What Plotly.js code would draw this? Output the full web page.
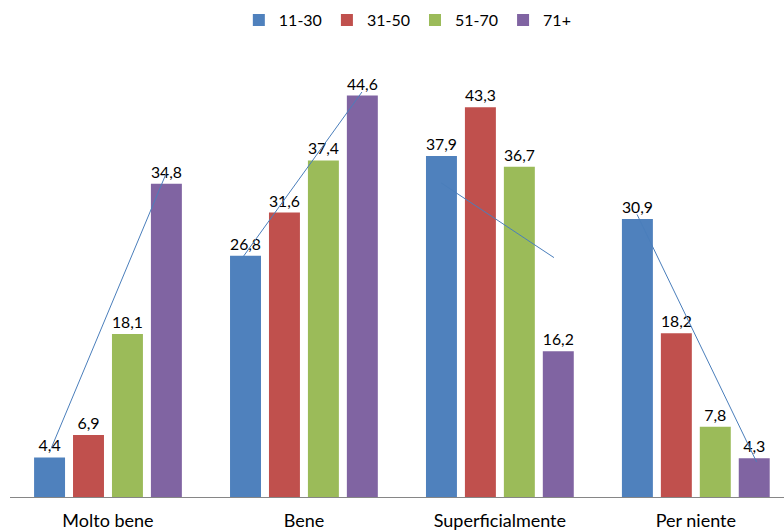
<!DOCTYPE html>
<html>
<head>
<meta charset="utf-8">
<script src="https://cdn.plot.ly/plotly-3.0.1.min.js"></script>
<style>html,body{margin:0;padding:0;background:#fff;}#chart{width:784px;height:532px;}</style>
</head>
<body>
<div id="chart"></div>
<script>
// Data
const categories = ["Molto bene", "Bene", "Superficialmente", "Per niente"];
const seriesNames = ["11-30", "31-50", "51-70", "71+"];
const values_11_30 = [4.4, 26.8, 37.9, 30.9];
const values_31_50 = [6.9, 31.6, 43.3, 18.2];
const values_51_70 = [18.1, 37.4, 36.7, 7.8];
const values_71p   = [34.8, 44.6, 16.2, 4.3];
// hand-drawn connector lines (start and end values, per category)
const lineStart = [5.4, 26.7, 34.9, 31.4];
const lineEnd   = [35.9, 45.0, 26.6, 3.9];

const colors = ["#4F81BD", "#C0504D", "#9BBB59", "#8064A2"];
const allValues = [values_11_30, values_31_50, values_51_70, values_71p];
const FONT = "Lato, 'Open Sans', sans-serif";

const fmt = v => v.toFixed(1).replace('.', ',');

const traces = allValues.map((vals, i) => ({
  type: 'bar',
  name: seriesNames[i],
  x: categories,
  y: vals,
  marker: {color: colors[i]},
  text: vals.map(fmt),
  textposition: 'outside',
  cliponaxis: false,
  textfont: {family: FONT, size: 16, color: '#000'},
  hoverinfo: 'none'
}));

const startOff = [-0.29, -0.31, -0.30, -0.30];
const endOff = [0.296, 0.296, 0.276, 0.31];
const shapes = categories.map((c, i) => ({
  type: 'line', xref: 'x', yref: 'y',
  x0: i + startOff[i], y0: lineStart[i],
  x1: i + endOff[i], y1: lineEnd[i],
  line: {color: '#4A7EBB', width: 1}
}));

const layout = {
  width: 784, height: 532,
  margin: {l: 10, r: 0, t: 47, b: 35},
  paper_bgcolor: '#fff', plot_bgcolor: '#fff',
  barmode: 'group',
  bargap: 0.205,
  bargroupgap: 0.205,
  font: {family: FONT, size: 16, color: '#000'},
  showlegend: true,
  legend: {
    orientation: 'h', x: 0.514, xanchor: 'center', y: 1.06, yanchor: 'middle',
    font: {family: FONT, size: 16, color: '#000'},
    itemwidth: 30, traceorder: 'normal'
  },
  xaxis: {
    type: 'category',
    range: [-0.5, 3.45],
    showline: true, linecolor: '#868686', linewidth: 1,
    showgrid: false, zeroline: false,
    ticks: '', ticklabelstandoff: 7,
    tickfont: {family: FONT, size: 18, color: '#000'},
    fixedrange: true
  },
  yaxis: {
    range: [0, 50],
    visible: false, showgrid: false, zeroline: false,
    fixedrange: true
  },
  shapes: shapes
};

Plotly.newPlot('chart', traces, layout, {displayModeBar: false, staticPlot: true});
</script>
</body>
</html>
